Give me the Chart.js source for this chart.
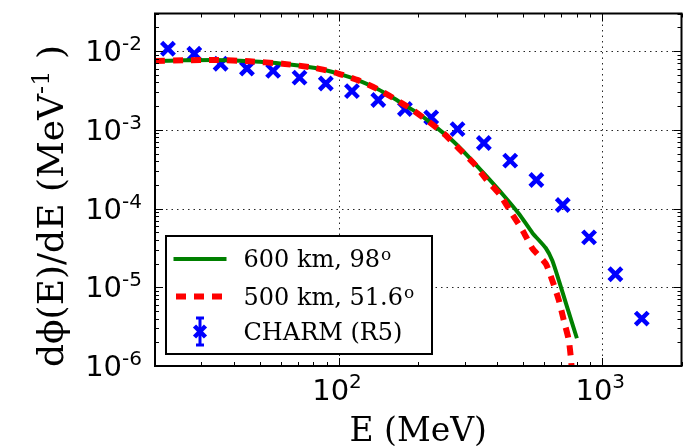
<!DOCTYPE html>
<html>
<head>
<meta charset="utf-8">
<script src="https://cdn.jsdelivr.net/npm/chart.js@4.4.1/dist/chart.umd.min.js"></script>
<style>
  html, body { margin: 0; padding: 0; background: #fff; }
  canvas { display: block; }
</style>
</head>
<body>
<canvas id="fluxChart" width="695" height="446"></canvas>
<script>
// differential proton flux, two orbit models and the CHARM (R5) measurement
const energy600 = [20, 25.7, 34.3, 45.7, 60.9, 81.3, 99.4, 118, 140, 162, 177, 204, 236, 272, 314, 363, 419, 484, 543, 610, 646, 684, 735, 801];
const flux600 = [7.48e-3, 7.63e-3, 7.7e-3, 7.41e-3, 6.92e-3, 6.1e-3, 5.18e-3, 4.27e-3, 3.29e-3, 2.5e-3, 2.07e-3, 1.55e-3, 1.05e-3, 7.12e-4, 4.38e-4, 2.58e-4, 1.51e-4, 8.47e-5, 4.9e-5, 3.15e-5, 2.18e-5, 1.22e-5, 5.63e-6, 2.25e-6];

const energy500 = [20, 25.7, 34.3, 45.7, 60.9, 81.3, 99.4, 118, 140, 162, 190, 219, 253, 284, 324, 363, 408, 451, 499, 543, 610, 646, 684, 714, 746, 763, 780];
const flux500 = [7.48e-3, 7.63e-3, 7.7e-3, 7.41e-3, 6.92e-3, 6.1e-3, 5.18e-3, 4.27e-3, 3.29e-3, 2.5e-3, 1.79e-3, 1.27e-3, 8.65e-4, 5.86e-4, 3.79e-4, 2.34e-4, 1.51e-4, 8.87e-5, 5.22e-5, 3.1e-5, 2.0e-5, 1.22e-5, 6.84e-6, 3.83e-6, 2.14e-6, 1.09e-6, 3e-7];

const energyCharm = [22.4, 28.2, 35.5, 44.7, 56.2, 70.8, 89.1, 112, 141, 178, 224, 282, 355, 447, 562, 708, 891, 1122, 1413];
const fluxCharm = [1.07e-2, 9.25e-3, 6.9e-3, 6.0e-3, 5.6e-3, 4.6e-3, 3.87e-3, 3.1e-3, 2.39e-3, 1.84e-3, 1.44e-3, 1.02e-3, 6.8e-4, 4.06e-4, 2.3e-4, 1.11e-4, 4.3e-5, 1.46e-5, 4.0e-6];

const seriesNames = ["600 km, 98", "500 km, 51.6", "CHARM (R5)"];
const seriesSup = ["o", "o", ""];

const xTicks = [100, 1000];
const xTickExp = ["2", "3"];
const yTicks = [1e-2, 1e-3, 1e-4, 1e-5, 1e-6];
const yTickExp = ["-2", "-3", "-4", "-5", "-6"];
const xRange = [20, 2000];
const yRange = [1e-6, 3e-2];

const xTitle = "E (MeV)";
const yTitle = ["dϕ(E)/dE (MeV", "-1", " )"];

const toPoints = (xs, ys) => xs.map((x, i) => ({ x, y: ys[i] }));

function segment(ctx, x1, y1, x2, y2) {
  ctx.beginPath();
  ctx.moveTo(x1, y1);
  ctx.lineTo(x2, y2);
  ctx.stroke();
}

// minor positions 2..9 x 10^k inside a range
function minorValues(lo, hi) {
  const out = [];
  for (let k = Math.floor(Math.log10(lo)); k <= Math.ceil(Math.log10(hi)); k++) {
    for (let m = 1; m <= 9; m++) {
      const v = m * Math.pow(10, k);
      if (v >= lo * 0.999 && v <= hi * 1.001) out.push({ v, major: m === 1 });
    }
  }
  return out;
}

const frame = {
  id: "frame",
  beforeDatasetsDraw(chart) {
    const { ctx, chartArea: a, scales: { x, y } } = chart;
    ctx.save();
    ctx.strokeStyle = "rgba(0,0,0,0.85)";
    ctx.lineWidth = 1;
    ctx.setLineDash([1.5, 4]);
    xTicks.forEach(v => {
      const px = Math.round(x.getPixelForValue(v)) + 0.5;
      segment(ctx, px, a.top, px, a.bottom);
    });
    yTicks.forEach(v => {
      const py = Math.round(y.getPixelForValue(v)) + 0.5;
      if (py > a.top + 1 && py < a.bottom - 1) segment(ctx, a.left, py, a.right, py);
    });
    ctx.restore();
  },
  afterDatasetsDraw(chart) {
    const { ctx, chartArea: a, scales: { x, y } } = chart;
    ctx.save();
    ctx.strokeStyle = "#000";
    ctx.lineWidth = 1;
    // inward ticks on all four sides
    minorValues(xRange[0], xRange[1]).forEach(t => {
      const px = Math.round(x.getPixelForValue(t.v)) + 0.5;
      const len = t.major ? 8 : 4;
      segment(ctx, px, a.bottom, px, a.bottom - len);
      segment(ctx, px, a.top, px, a.top + len);
    });
    minorValues(yRange[0], yRange[1]).forEach(t => {
      const py = Math.round(y.getPixelForValue(t.v)) + 0.5;
      const len = t.major ? 8 : 4;
      segment(ctx, a.left, py, a.left + len, py);
      segment(ctx, a.right, py, a.right - len, py);
    });
    ctx.lineWidth = 2;
    ctx.strokeRect(a.left, a.top, a.right - a.left, a.bottom - a.top);

    ctx.fillStyle = "#000";
    const big = '29px "DejaVu Sans"';
    const small = '20px "DejaVu Sans"';
    // y tick labels: 10 with raised exponent, right aligned
    ctx.textAlign = "left";
    ctx.textBaseline = "alphabetic";
    yTicks.forEach((v, i) => {
      const py = y.getPixelForValue(v);
      ctx.font = small;
      const we = ctx.measureText(yTickExp[i]).width;
      ctx.font = big;
      const wb = ctx.measureText("10").width;
      const right = a.left - 13;
      ctx.fillText("10", right - we - wb, py + 10);
      ctx.font = small;
      ctx.fillText(yTickExp[i], right - we, py - 1);
    });
    // x tick labels
    xTicks.forEach((v, i) => {
      const px = x.getPixelForValue(v);
      ctx.font = small;
      const we = ctx.measureText(xTickExp[i]).width;
      ctx.font = big;
      const wb = ctx.measureText("10").width;
      const left = px - (wb + we) / 2 - 2;
      ctx.fillText("10", left, a.bottom + 34);
      ctx.font = small;
      ctx.fillText(xTickExp[i], left + wb, a.bottom + 22);
    });

    // axis titles
    ctx.font = '33px "DejaVu Serif"';
    ctx.textAlign = "center";
    ctx.fillText(xTitle, (a.left + a.right) / 2, 441);

    ctx.save();
    ctx.translate(63, 206);
    ctx.rotate(-Math.PI / 2);
    ctx.textAlign = "left";
    const fMain = '36px "DejaVu Serif"';
    const fSup = '24px "DejaVu Serif"';
    ctx.font = fMain;
    const w0 = ctx.measureText(yTitle[0]).width;
    const w2 = ctx.measureText(yTitle[2]).width;
    ctx.font = fSup;
    const w1 = ctx.measureText(yTitle[1]).width;
    let cx = -(w0 + w1 + w2) / 2;
    ctx.font = fMain;
    ctx.fillText(yTitle[0], cx, 0);
    cx += w0;
    ctx.font = fSup;
    ctx.fillText(yTitle[1], cx, -14);
    cx += w1;
    ctx.font = fMain;
    ctx.fillText(yTitle[2], cx, 0);
    ctx.restore();

    // legend box
    const box = { x: 166, y: 236, w: 266, h: 118 };
    ctx.fillStyle = "#fff";
    ctx.fillRect(box.x, box.y, box.w, box.h);
    ctx.lineWidth = 2;
    ctx.strokeStyle = "#000";
    ctx.strokeRect(box.x, box.y, box.w, box.h);

    const rows = [259, 296.5, 331.5];
    const ds = chart.data.datasets;
    ctx.lineCap = "butt";
    // solid line sample
    ctx.strokeStyle = ds[0].borderColor;
    ctx.lineWidth = ds[0].borderWidth;
    segment(ctx, 173.5, rows[0], 226.5, rows[0]);
    // dashed sample
    ctx.strokeStyle = ds[1].borderColor;
    ctx.lineWidth = ds[1].borderWidth;
    ctx.setLineDash(ds[1].borderDash);
    ctx.lineDashOffset = -2.5;
    segment(ctx, 173.5, rows[1], 226.5, rows[1]);
    ctx.setLineDash([]);
    // marker with error bar
    const mx = 200, my = rows[2];
    ctx.strokeStyle = ds[2].pointBorderColor;
    ctx.lineWidth = 3;
    segment(ctx, mx, my - 14, mx, my + 14);
    segment(ctx, mx - 4, my - 13.5, mx + 4, my - 13.5);
    segment(ctx, mx - 4, my + 13.5, mx + 4, my + 13.5);
    ctx.lineWidth = 4.5;
    segment(ctx, mx - 5.5, my - 5.5, mx + 5.5, my + 5.5);
    segment(ctx, mx - 5.5, my + 5.5, mx + 5.5, my - 5.5);

    ctx.fillStyle = "#000";
    ctx.textAlign = "left";
    const lMain = '24px "DejaVu Serif"';
    const lSup = '17px "DejaVu Serif"';
    seriesNames.forEach((name, i) => {
      const base = rows[i] + 8;
      ctx.font = lMain;
      ctx.fillText(name, 243.5, base);
      if (seriesSup[i]) {
        const w = ctx.measureText(name).width;
        ctx.font = lSup;
        ctx.fillText(seriesSup[i], 243.5 + w + 1, base - 7);
      }
    });
    ctx.restore();
  }
};

new Chart(document.getElementById("fluxChart"), {
  type: "line",
  data: {
    datasets: [
      {
        label: seriesNames[0],
        data: toPoints(energy600, flux600),
        borderColor: "#008000",
        borderWidth: 4,
        pointRadius: 0,
        tension: 0.2,
        clip: 0,
        order: 1
      },
      {
        label: seriesNames[1],
        data: toPoints(energy500, flux500),
        borderColor: "#ff0000",
        borderWidth: 6,
        borderDash: [10, 8],
        borderCapStyle: "butt",
        pointRadius: 0,
        tension: 0.2,
        clip: 0,
        order: 0
      },
      {
        label: seriesNames[2],
        data: toPoints(energyCharm, fluxCharm),
        showLine: false,
        pointStyle: "crossRot",
        pointRadius: 9,
        pointBorderWidth: 4.5,
        pointBorderColor: "#0000ff",
        pointBackgroundColor: "#0000ff",
        order: 2
      }
    ]
  },
  options: {
    responsive: false,
    animation: false,
    devicePixelRatio: 1,
    layout: { padding: { left: 155, right: 8, top: 11, bottom: 80 } },
    scales: {
      x: { type: "logarithmic", min: xRange[0], max: xRange[1], display: false },
      y: { type: "logarithmic", min: yRange[0], max: yRange[1], display: false }
    },
    plugins: { legend: { display: false }, tooltip: { enabled: false } }
  },
  plugins: [frame]
});
</script>
</body>
</html>
